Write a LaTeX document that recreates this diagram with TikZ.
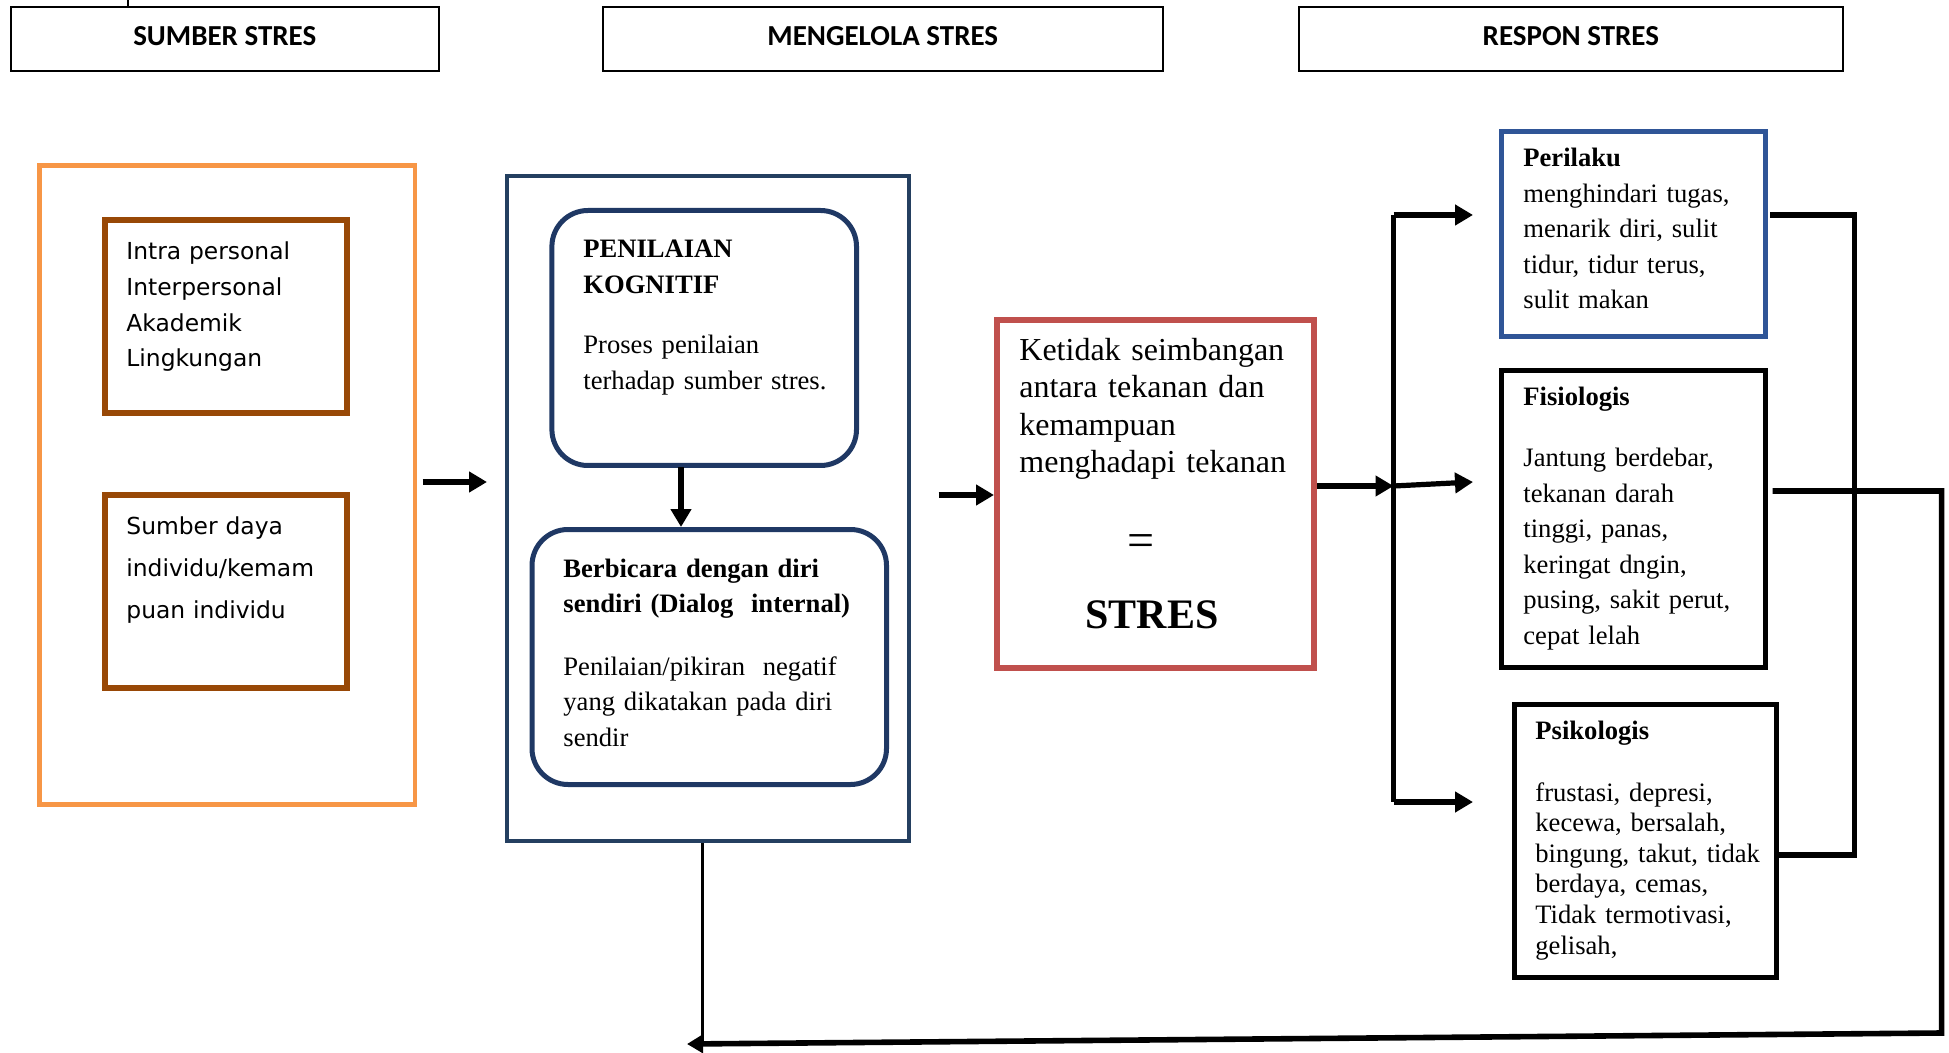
\documentclass[tikz,border=0pt]{standalone}
\usepackage{fontspec}
\setmainfont{Liberation Serif}
\newfontfamily\hdrfont{Carlito}
\newfontfamily\dvfont{DejaVu Sans}
\usetikzlibrary{arrows.meta}
\definecolor{orng}{HTML}{F79646}
\definecolor{brwn}{HTML}{984806}
\definecolor{navyA}{HTML}{243F60}
\definecolor{navyB}{HTML}{1F3864}
\definecolor{blueP}{HTML}{2F5597}
\definecolor{redS}{HTML}{C0504D}
\begin{document}
\begin{tikzpicture}[x=0.5pt,y=-0.5pt,
  box/.style={draw,inner sep=0pt,anchor=north west},
  hdr/.style={box,line width=1pt,font=\hdrfont\bfseries\fontsize{14.5}{17}\selectfont},
  txt/.style={anchor=base west,inner sep=0pt,align=left,text width=#1},
  serif/.style={font=\fontsize{13.3}{17.75}\selectfont},
  arr/.style={line width=2.6pt,-{Triangle[length=9pt,width=10pt]}},
  thk/.style={line width=2.8pt}]
\useasboundingbox (0,0) rectangle (1949,1053);
% top tick
\coordinate (tk1) at (128,0);
\coordinate (tk2) at (128,6);
\draw[line width=0.9pt] (tk1) -- (tk2);
% headers
\node[hdr,minimum width=213.75pt,minimum height=32pt,text depth=0.6ex] (h1) at (10,6) {SUMBER STRES};
\node[hdr,minimum width=280.2pt,minimum height=32pt,text depth=0.6ex] (h2) at (601.6,6) {MENGELOLA STRES};
\node[hdr,minimum width=272.15pt,minimum height=32pt,text depth=0.6ex] (h3) at (1297.7,6) {RESPON STRES};
% sumber stres
\node[box,draw=orng,line width=2.4pt,minimum width=187.75pt,minimum height=319.5pt] (orange) at (37,163) {};
\node[box,draw=brwn,line width=3pt,minimum width=121pt,minimum height=96.25pt] (br1) at (102,217.5) {};
\node[box,draw=brwn,line width=3pt,minimum width=121pt,minimum height=96.5pt] (br2) at (102,492) {};
\node[txt=120pt,font=\dvfont\fontsize{11.7}{17.8}\selectfont] (br1t) at (126,260) {Intra personal\\Interpersonal\\Akademik\\Lingkungan};
\node[txt=120pt,font=\dvfont\fontsize{11.7}{21}\selectfont] (br2t) at (126,534) {Sumber daya\\individu/kemam\\puan individu};
% mengelola stres
\node[box,draw=navyA,line width=2pt,minimum width=201.35pt,minimum height=332.5pt] (navy) at (504.7,174) {};
\node[box,draw=navyB,line width=2.5pt,rounded corners=18pt,minimum width=152.3pt,minimum height=127.5pt] (rb1) at (549.4,208) {};
\node[box,draw=navyB,line width=2.5pt,rounded corners=18pt,minimum width=177.25pt,minimum height=127.5pt] (rb2) at (529.5,527) {};
\node[txt=150pt,serif] (rb1t) at (583,258) {\textbf{PENILAIAN}\\\textbf{KOGNITIF}\\[12.5pt]Proses penilaian\\terhadap sumber stres.};
\node[txt=170pt,serif] (rb2t) at (563,577) {\textbf{Berbicara dengan diri}\\\textbf{sendiri (Dialog\ \ internal)}\\[13.5pt]Penilaian/pikiran\ \ negatif\\yang dikatakan pada diri\\sendir};
% stres
\node[box,draw=redS,line width=3pt,minimum width=158.5pt,minimum height=174pt] (red) at (994,317) {};
\node[txt=160pt,font=\fontsize{16}{18.65}\selectfont] (redt) at (1019,360.5) {Ketidak seimbangan\\antara tekanan dan\\kemampuan\\menghadapi tekanan};
\node[inner sep=0pt,font=\fontsize{24}{26}\selectfont] (eq) at (1141,546) {=};
\node[inner sep=0pt,font=\bfseries\fontsize{21}{24}\selectfont] (stres) at (1152,615) {STRES};
% respon
\node[box,draw=blueP,line width=2.5pt,minimum width=131.8pt,minimum height=102.5pt] (peri) at (1499,129) {};
\node[box,draw=black,line width=2.5pt,minimum width=132pt,minimum height=148.5pt] (fisi) at (1499,368) {};
\node[box,draw=black,line width=2.5pt,minimum width=131.25pt,minimum height=136.25pt] (psik) at (1511.5,702) {};
\node[txt=140pt,serif] (perit) at (1523,167) {\textbf{Perilaku}\\menghindari tugas,\\menarik diri, sulit\\tidur, tidur terus,\\sulit makan};
\node[txt=140pt,serif] (fisit) at (1523,406) {\textbf{Fisiologis}\\[12.6pt]Jantung berdebar,\\tekanan darah\\tinggi, panas,\\keringat dngin,\\pusing, sakit perut,\\cepat lelah};
\node[txt=140pt,font=\fontsize{13.3}{15.3}\selectfont] (psikt) at (1535,739) {\textbf{Psikologis}\\[15.7pt]frustasi, depresi,\\kecewa, bersalah,\\bingung, takut, tidak\\berdaya, cemas,\\Tidak termotivasi,\\gelisah,};
% connectors
\coordinate (a1e) at (487,482);
\coordinate (a1s) at (422.6,482);
\draw[arr] (a1s) -- (a1e);
\coordinate (dwn) at (681,467);
\draw[arr] (dwn) -- (dwn |- rb2.north);
\coordinate (a2s) at (938.5,495);
\draw[arr] (a2s) -- (a2s -| red.west);
\coordinate (vt) at (1393.5,215);
\coordinate (vm) at (1393.5,486);
\coordinate (vb) at (1393.5,802);
\draw[thk] (vt) -- (vb);
\draw[arr] (vm -| red.east) -- (vm);
\coordinate (e1) at (1473,215);
\coordinate (e2) at (1473,482);
\coordinate (e3) at (1473,802);
\draw[arr] (vt) -- (e1);
\draw[arr] (vm) -- (e2);
\draw[arr] (vb) -- (e3);
% right bracket
\coordinate (pr0) at (1770,215);
\coordinate (pr1) at (1854.6,215);
\coordinate (pr2) at (1854.6,855);
\draw[thk] (pr0) -- (pr1) -- (pr2) -- (pr2 -| psik.east);
% feedback loop
\coordinate (f0) at (1772.5,491);
\coordinate (f1) at (1941.6,491);
\coordinate (f2) at (1941.6,1033);
\coordinate (f3) at (687,1044);
\draw[line width=2.8pt,-{Triangle[length=8pt,width=9pt]}] (f0) -- (f1) -- (f2) -- (f3);
\coordinate (nb) at (702,1045);
\draw[line width=1.5pt] (navy.south -| nb) -- (nb);
\end{tikzpicture}
\end{document}
